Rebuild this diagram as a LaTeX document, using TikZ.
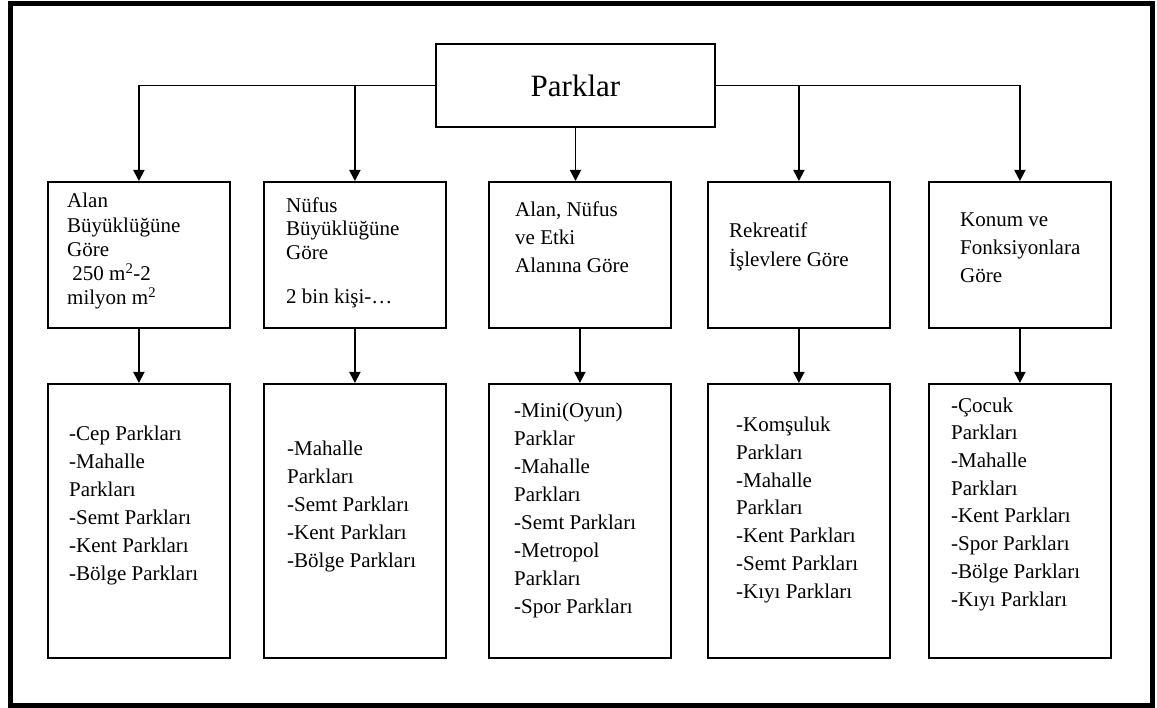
\documentclass[tikz,border=0pt]{standalone}
\usepackage{fontspec}
\setmainfont{Liberation Serif}
\usetikzlibrary{arrows.meta}

\begin{document}
\begin{tikzpicture}[x=1pt,y=-1pt,
  box/.style={draw,line width=1.8pt,inner sep=0pt,anchor=north west,minimum width=182pt},
  txt/.style={align=left,anchor=base west,inner sep=0pt,font=\fontsize{21}{28}\selectfont},
  link/.style={line width=1.8pt,-{Triangle[width=11pt,length=11pt]}}]
  \useasboundingbox (0,0) rectangle (1157,708);
  \draw[line width=5pt] (10,4) rectangle (1152,705);
  \node[draw,line width=1.8pt,minimum width=279pt,minimum height=83pt,font=\fontsize{31}{36}\selectfont] (park) at (575.5,85.5) {Parklar};
  \foreach \n/\x in {1/47,2/263,3/488,4/707,5/928} {
    \node[box,minimum height=146pt] (b\n) at (\x,181) {};
    \node[box,minimum height=274pt] (c\n) at (\x,383) {};
  }
  % texts are placed by the baseline of their last line
  \path (67,305) node[txt,font=\fontsize{21}{24.3}\selectfont] (t1) {Alan\\Büyüklüğüne\\Göre\\\ 250 m\textsuperscript{2}-2\\milyon m\textsuperscript{2}}
  (286,304) node[txt,font=\fontsize{21}{23.5}\selectfont] (t2) {Nüfus\\Büyüklüğüne\\Göre\\[21pt]2 bin kişi-…}
  (515,273) node[txt] (t3) {Alan, Nüfus\\ve Etki\\Alanına Göre}
  (729,267) node[txt,font=\fontsize{21}{29}\selectfont] (t4) {Rekreatif\\İşlevlere Göre}
  (960,283) node[txt] (t5) {Konum ve\\Fonksiyonlara\\Göre};
  \path (69,580) node[txt] (u1) {-Cep Parkları\\-Mahalle\\Parkları\\-Semt Parkları\\-Kent Parkları\\-Bölge Parkları}
  (287,567) node[txt] (u2) {-Mahalle\\Parkları\\-Semt Parkları\\-Kent Parkları\\-Bölge Parkları}
  (514,613) node[txt] (u3) {-Mini(Oyun)\\Parklar\\-Mahalle\\Parkları\\-Semt Parkları\\-Metropol\\Parkları\\-Spor Parkları}
  (736,598) node[txt,font=\fontsize{21}{27.7}\selectfont] (u4) {-Komşuluk\\Parkları\\-Mahalle\\Parkları\\-Kent Parkları\\-Semt Parkları\\-Kıyı Parkları}
  (951,606) node[txt,font=\fontsize{21}{27.7}\selectfont] (u5) {-Çocuk\\Parkları\\-Mahalle\\Parkları\\-Kent Parkları\\-Spor Parkları\\-Bölge Parkları\\-Kıyı Parkları};
  \draw[link] (park.west) -| (b1.north);
  \draw[link] (park.east) -| (b5.north);
  \draw[link] (park.south) -- (park.south |- b3.north);
  \draw[link] (b2.north |- park.west) -- (b2.north);
  \draw[link] (b4.north |- park.east) -- (b4.north);
  \foreach \n in {1,...,5} \draw[link] (b\n.south) -- (c\n.north);
\end{tikzpicture}
\end{document}
